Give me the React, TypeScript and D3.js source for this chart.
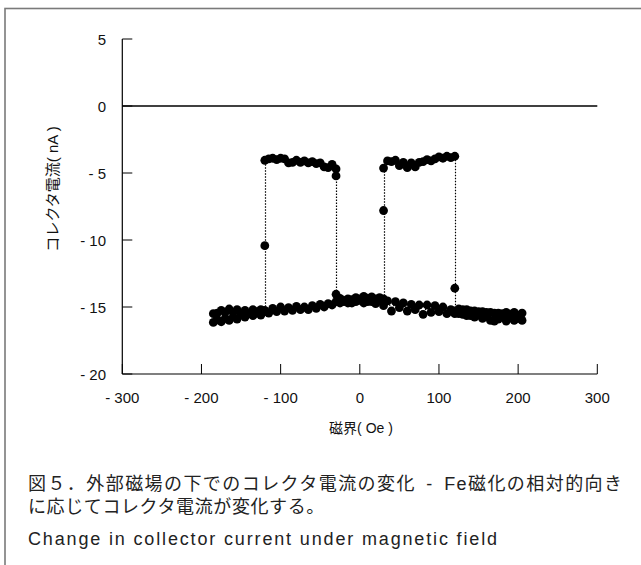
import React from 'react';
import * as d3 from 'd3';

// 軸の目盛り
const xTicks = [-300, -200, -100, 0, 100, 200, 300];
const yTicks = [5, 0, -5, -10, -15, -20];

// 掃引 (上り): -185 Oe -> +205 Oe
const upField = [
  -185, -180, -175, -170, -165, -160, -155, -150, -145, -140, -135, -130, -125, -120, -115, -110,
  -105, -100, -95, -90, -85, -80, -75, -70, -65, -60, -55, -50, -45, -40, -35, -30, -25, -20, -15,
  -10, -5, 0, 5, 10, 15, 20, 25, 30,
  30, 30,
  35, 40, 45, 50, 55, 60, 65, 70, 75, 80, 85, 90, 95, 100, 105, 110, 115, 120,
  120, 120,
  125, 130, 135, 140, 145, 150, 155, 160, 165, 170, 175, 180, 185, 190, 195, 200, 205,
];
const upCurrent = [
  -16.15, -15.95, -16.1, -15.85, -16.0, -15.75, -15.9, -15.6, -15.75, -15.5, -15.65, -15.35, -15.6,
  -15.25, -15.45, -15.1, -15.35, -15.0, -15.3, -15.05, -15.25, -14.95, -15.2, -15.0, -15.2, -14.9,
  -15.1, -14.8, -15.0, -14.75, -14.85, -14.6, -14.7, -14.5, -14.7, -14.45, -14.6, -14.4, -14.7,
  -14.35, -14.6, -14.4, -14.55, -14.4,
  -7.8, -4.63,
  -4.1, -4.15, -4.05, -4.45, -4.2, -4.6, -4.25, -4.55, -4.2, -4.15, -4.0, -4.1, -3.95, -3.8, -3.9,
  -3.75, -3.85, -3.75,
  -13.6, -15.3,
  -15.5, -15.2, -15.65, -15.3, -15.75, -15.35, -15.85, -15.4, -16.0, -15.45, -15.9, -15.5, -16.05,
  -15.55, -16.0, -15.6, -16.0,
];

// 掃引 (下り): +205 Oe -> -185 Oe
const downField = [
  205, 200, 195, 190, 185, 180, 175, 170, 165, 160, 155, 150, 145, 140, 135, 130, 125, 120, 115,
  110, 105, 100, 95, 90, 85, 80, 75, 70, 65, 60, 55, 50, 45, 40, 35, 30, 25, 20, 15, 10, 5, 0, -5,
  -10, -15, -20, -25, -30,
  -30, -30,
  -35, -40, -45, -50, -55, -60, -65, -70, -75, -80, -85, -90, -95, -100, -105, -110, -115, -120,
  -120, -120,
  -125, -130, -135, -140, -145, -150, -155, -160, -165, -170, -175, -180, -185,
];
const downCurrent = [
  -15.45, -15.85, -15.4, -15.8, -15.4, -15.75, -15.45, -16.05, -15.4, -15.7, -15.35, -15.6, -15.3,
  -15.65, -15.2, -15.55, -15.15, -15.5, -15.2, -15.5, -15.0, -15.35, -14.9, -15.4, -14.85, -15.55,
  -14.85, -15.2, -14.8, -15.3, -14.7, -15.05, -14.6, -15.3, -14.55, -14.9, -14.3, -14.75, -14.25,
  -14.6, -14.2, -14.5, -14.3, -14.7, -14.4, -14.6, -14.35, -14.05,
  -5.22, -4.7,
  -4.35, -4.6, -4.55, -4.25, -4.3, -4.15, -4.25, -4.1, -4.2, -4.05, -4.2, -4.25, -3.95, -3.9, -4.0,
  -3.9, -3.95, -4.05,
  -10.42, -15.35,
  -15.2, -15.45, -15.2, -15.5, -15.25, -15.55, -15.2, -15.4, -15.15, -15.4, -15.25, -15.45, -15.5,
];

const captionJa1 = '図５．外部磁場の下でのコレクタ電流の変化\u2002-\u2002Fe磁化の相対的向き';
const captionJa2 = 'に応じてコレクタ電流が変化する。';
const captionEn = 'Change in collector current under magnetic field';

const W = 641;
const H = 565;
const latin = '"Liberation Sans", Arial, "Noto Sans CJK JP", sans-serif';

const fmt = (v: number) => (v < 0 ? `- ${Math.abs(v)}` : `${v}`);

export default function App() {
  const x = d3.scaleLinear().domain([-300, 300]).range([122.3, 597.3]);
  const y = d3.scaleLinear().domain([-20, 5]).range([374, 39]);

  const down = downField.map((f, i) => [f, downCurrent[i]] as [number, number]);
  const up = upField.map((f, i) => [f, upCurrent[i]] as [number, number]);
  const all = down.concat(up);

  const line = d3.line<[number, number]>().x(d => Math.round(x(d[0])) + 0.5).y(d => y(d[1]));

  return (
    <svg width={W} height={H} style={{ position: 'absolute', left: 0, top: 0, background: '#fff' }}>
      {/* 外枠 */}
      <rect x={5} y={8.5} width={720} height={700} fill="#fff" stroke="#7a7a7a" strokeWidth={1.6} />

      {/* 軸 */}
      <line x1={x(-300)} x2={x(-300)} y1={y(5)} y2={y(-20)} stroke="#000" strokeWidth={1.2} />
      <line x1={x(-300)} x2={x(300)} y1={y(-20)} y2={y(-20)} stroke="#000" strokeWidth={1.2} />
      <line x1={x(-300)} x2={x(300)} y1={y(0)} y2={y(0)} stroke="#000" strokeWidth={1.5} />

      {yTicks.map(t => (
        <g key={'y' + t}>
          <line x1={x(-300)} x2={x(-300) + 10} y1={y(t)} y2={y(t)} stroke="#000" strokeWidth={1} />
          <text x={106} y={y(t) + 5.5} textAnchor="end" fontFamily={latin} fontSize={15} fill="#111">
            {fmt(t)}
          </text>
        </g>
      ))}
      {xTicks.map(t => (
        <g key={'x' + t}>
          <line x1={x(t)} x2={x(t)} y1={y(-20)} y2={y(-20) - 10} stroke="#000" strokeWidth={1} />
          <text x={x(t)} y={403} textAnchor="middle" fontFamily={latin} fontSize={15} fill="#111">
            {fmt(t)}
          </text>
        </g>
      ))}

      {/* 軸ラベル */}
      <text x={361} y={433} textAnchor="middle" fontFamily={latin} fontSize={14} fill="#111">
        磁界( Oe )
      </text>
      <text
        transform={`translate(58, 189) rotate(-90)`}
        textAnchor="middle"
        fontFamily={latin}
        fontSize={15}
        fill="#111"
      >
        コレクタ電流( nA )
      </text>

      {/* 点線 (掃引の順) */}
      <path d={line(all) || ''} fill="none" stroke="#000" strokeWidth={1.2} strokeDasharray="1.5 1.5" />

      {/* マーカー */}
      {all.map((d, i) => (
        <circle key={i} cx={x(d[0])} cy={y(d[1])} r={4.4} fill="#000" />
      ))}

      {/* キャプション */}
      <text x={28} y={490} fontFamily={latin} fontSize={18} fill="#222" textLength={594} lengthAdjust="spacing">
        {captionJa1}
      </text>
      <text x={28} y={513} fontFamily={latin} fontSize={18} fill="#222" letterSpacing={0.6}>
        {captionJa2}
      </text>
      <text x={28} y={545} fontFamily={latin} fontSize={18} fill="#222" textLength={469} lengthAdjust="spacing">
        {captionEn}
      </text>
    </svg>
  );
}
